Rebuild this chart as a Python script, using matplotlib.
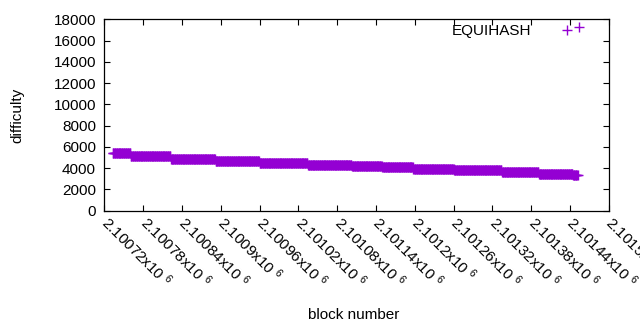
import numpy as np
import matplotlib
matplotlib.use("Agg")
import matplotlib.pyplot as plt
from matplotlib.transforms import ScaledTranslation

plt.rcParams['font.family'] = ['Liberation Sans', 'DejaVu Sans']
plt.rcParams['mathtext.fontset'] = 'custom'
plt.rcParams['mathtext.rm'] = 'Liberation Sans'
plt.rcParams['mathtext.it'] = 'Liberation Sans'
plt.rcParams['mathtext.bf'] = 'Liberation Sans'

# difficulty stays flat over runs of blocks
seg_first = [2100733, 2100761, 2100823, 2100892, 2100960, 2101035, 2101103,
             2101150, 2101198, 2101261, 2101335, 2101392, 2101445]
seg_last = [2100760, 2100822, 2100891, 2100959, 2101034, 2101102, 2101149,
            2101197, 2101260, 2101334, 2101391, 2101444, 2101452]
seg_difficulty = [5398, 5116, 4909, 4712, 4514, 4326, 4204,
                  4063, 3893, 3781, 3640, 3480, 3386]
# one odd block near the end
spike_block = [2101454]
spike_difficulty = [17305]

x_ticks = np.arange(2100720, 2101501, 60)
y_ticks = np.arange(0, 18001, 2000)

blocks = []
diffs = []
for a, b, d in zip(seg_first, seg_last, seg_difficulty):
    r = np.arange(a, b + 1)
    blocks.extend(r)
    diffs.extend([d] * len(r))
blocks.extend(spike_block)
diffs.extend(spike_difficulty)

fig = plt.figure(figsize=(6.4, 3.3), dpi=100)
ax = fig.add_axes([104.3 / 640, 1 - 210.7 / 330, 504.4 / 640, 191.4 / 330])

ax.plot(blocks, diffs, linestyle='none', marker='+', markersize=7,
        markeredgewidth=1.0, color='#9400d3', label='EQUIHASH')

ax.set_xlim(2100720, 2101500)
ax.set_ylim(0, 18000)
ax.set_xticks(x_ticks)
ax.set_yticks(y_ticks)


def fmt(v):
    s = ('%.5f' % (v / 1e6)).rstrip('0')
    return s + 'x10 $^{6}$'


ax.set_xticklabels([fmt(v) for v in x_ticks], rotation=-45, ha='left',
                   va='center', rotation_mode='anchor', fontsize=11)
shift = ScaledTranslation(2 / 100, -2 / 100, fig.dpi_scale_trans)
for lab in ax.get_xticklabels():
    lab.set_transform(lab.get_transform() + shift)
ax.set_yticklabels(['%d' % v for v in y_ticks], fontsize=11)
ax.tick_params(direction='in', length=4, width=0.8, top=True, right=True,
               pad=6)
for sp in ax.spines.values():
    sp.set_linewidth(0.9)

leg = ax.legend(loc='upper right', bbox_to_anchor=(0.937, 0.975),
                markerfirst=False, frameon=False, fontsize=11,
                handlelength=1.3, handletextpad=1.7, borderaxespad=0,
                borderpad=0, numpoints=1)

fig.text(17 / 640, 1 - 115 / 330, 'difficulty', rotation=90, ha='center',
         va='center', fontsize=11)
fig.text(354 / 640, 1 - 315 / 330, 'block number', ha='center',
         va='center', fontsize=11)

fig.savefig('out.png', dpi=100)
